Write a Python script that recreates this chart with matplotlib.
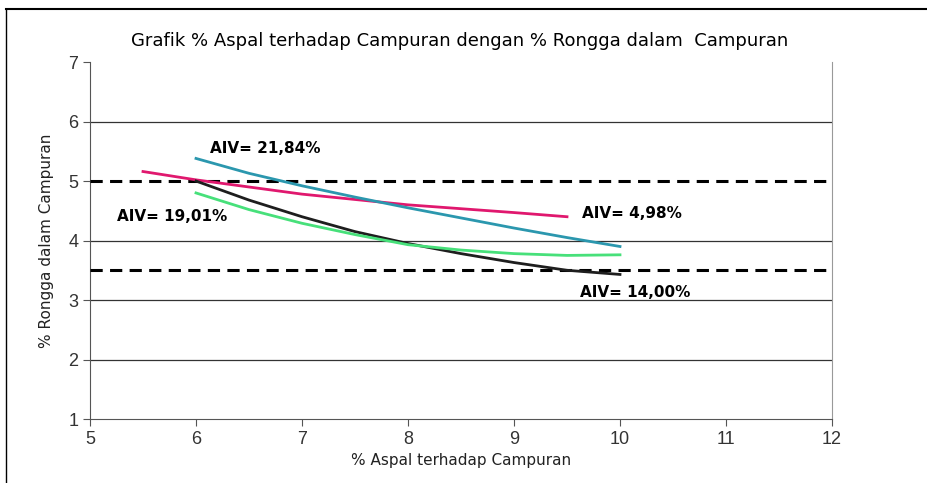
import matplotlib.pyplot as plt
from matplotlib.lines import Line2D

# series
ASPAL_PINK = [5.5, 6.0, 7.0, 8.0, 9.0, 9.5]
VIM_PINK = [5.16, 5.02, 4.78, 4.60, 4.47, 4.40]

ASPAL = [6.0, 6.5, 7.0, 7.5, 8.0, 8.5, 9.0, 9.5, 10.0]
VIM_TEAL = [5.38, 5.13, 4.92, 4.73, 4.55, 4.38, 4.21, 4.05, 3.90]
VIM_BLACK = [5.00, 4.68, 4.40, 4.15, 3.95, 3.78, 3.63, 3.50, 3.43]
VIM_GREEN = [4.80, 4.52, 4.29, 4.10, 3.93, 3.84, 3.78, 3.75, 3.76]

GRID_Y = [2, 3, 4, 6]
LIMITS = [5.0, 3.5]

LABELS = ["AIV= 21,84%", "AIV= 19,01%", "AIV= 4,98%", "AIV= 14,00%"]
LABEL_X = [6.13, 5.25, 9.64, 9.62]
LABEL_Y = [5.55, 4.40, 4.46, 3.12]

fig = plt.figure(figsize=(9.27, 4.83), dpi=100)
ax = fig.add_axes([0.0971, 0.1325, 0.8004, 0.739])

ax.set_xlim(5, 12)
ax.set_ylim(1, 7)
ax.set_xticks(range(5, 13))
ax.set_yticks(range(1, 8))

for y in GRID_Y:
    ax.axhline(y, color="#333333", linewidth=0.9, zorder=1)
for y in LIMITS:
    ax.axhline(y, color="black", linestyle=(0, (4, 2.4)), linewidth=2.2, zorder=3)

ax.plot(ASPAL_PINK, VIM_PINK, color="#E0186E", linewidth=2.0, zorder=4)
ax.plot(ASPAL, VIM_TEAL, color="#2B97AE", linewidth=2.0, zorder=4)
ax.plot(ASPAL, VIM_BLACK, color="#1E1E1E", linewidth=2.0, zorder=4)
ax.plot(ASPAL, VIM_GREEN, color="#47E07A", linewidth=2.0, zorder=4)

for txt, x, y in zip(LABELS, LABEL_X, LABEL_Y):
    ax.text(x, y, txt, fontsize=11, fontweight="bold", ha="left", va="center", zorder=5)

ax.spines["top"].set_visible(False)
ax.spines["right"].set_color("#999999")
ax.spines["left"].set_color("#555555")
ax.spines["bottom"].set_color("#555555")
ax.tick_params(direction="out", length=5, colors="#555555", labelcolor="#333333",
               labelsize=13)
for lab in ax.get_xticklabels() + ax.get_yticklabels():
    lab.set_fontfamily("Liberation Sans")

ax.set_xlabel("% Aspal terhadap Campuran", fontsize=11, color="#222222", labelpad=4)
ax.set_ylabel("% Rongga dalam Campuran", fontsize=11, color="#222222", labelpad=10)
fig.text(0.496, 0.915, "Grafik % Aspal terhadap Campuran dengan % Rongga dalam  Campuran",
         ha="center", va="center", fontsize=13)

# outer frame of the pasted chart
fig.add_artist(Line2D([0.006, 1.0], [0.981, 0.981], color="black", linewidth=1.5))
fig.add_artist(Line2D([0.006, 0.006], [0.0, 0.981], color="black", linewidth=1.0))

fig.savefig("out.png", dpi=100)
